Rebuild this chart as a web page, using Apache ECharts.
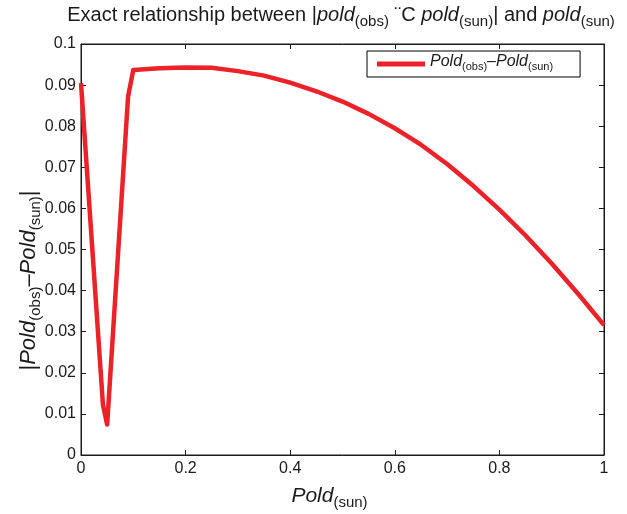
<!DOCTYPE html>
<html>
<head>
<meta charset="utf-8">
<script src="https://cdn.jsdelivr.net/npm/echarts@6/dist/echarts.min.js"></script>
<style>
  html, body { margin: 0; padding: 0; background: #fff; }
  #chart { width: 627px; height: 514px; }
</style>
</head>
<body>
<div id="chart"></div>
<script>
// Pold(sun) sample positions and |Pold(obs) - Pold(sun)| values
const poldSun = [0, 0.042, 0.05, 0.09, 0.10, 0.15, 0.20, 0.25, 0.30, 0.35, 0.40, 0.45, 0.50,
                 0.55, 0.60, 0.65, 0.70, 0.75, 0.80, 0.85, 0.90, 0.95, 1.00];
const absDiff = [0.0905, 0.0122, 0.0074, 0.0872, 0.0937, 0.0941, 0.0943, 0.0942, 0.0934, 0.0923,
                 0.0906, 0.0885, 0.0860, 0.0830, 0.0795, 0.0755, 0.0708, 0.0655, 0.0597, 0.0534,
                 0.0466, 0.0393, 0.0316];
const xTicks = [0, 0.2, 0.4, 0.6, 0.8, 1];
const yTicks = [0, 0.01, 0.02, 0.03, 0.04, 0.05, 0.06, 0.07, 0.08, 0.09, 0.1];

const FONT = 'Liberation Sans, Arial, Helvetica, sans-serif';
const INK = '#1a1a1a';
const RED = '#ed2128';

const points = poldSun.map((x, i) => [x, absDiff[i]]);
const fmt = v => String(Number(v.toFixed(2)));

const chart = echarts.init(document.getElementById('chart'), null, { renderer: 'canvas' });

// MATLAB-style box: inward ticks on all four sides
const tickStyle = { show: true, inside: true, length: 5, lineStyle: { color: INK, width: 1 } };
const lineStyleAxis = { show: true, onZero: false, lineStyle: { color: INK, width: 1 } };

chart.setOption({
  backgroundColor: '#fff',
  animation: false,
  title: {
    text: '{n|Exact relationship between |}{i|pold}{s|(obs)}{n| ¨C }{i|pold}{s|(sun)}{n|| and }{i|pold}{s|(sun)}',
    left: 336,
    textAlign: 'center',
    top: 2,
    textStyle: {
      fontFamily: FONT,
      fontWeight: 'normal',
      rich: {
        n: { fontFamily: FONT, fontSize: 20, fontWeight: 'normal', color: INK, lineHeight: 22, padding: [0, 0, 5, 0] },
        i: { fontFamily: FONT, fontSize: 20, fontWeight: 'normal', fontStyle: 'italic', color: INK, lineHeight: 22, padding: [0, 0, 5, 0] },
        s: { fontFamily: FONT, fontSize: 15, fontWeight: 'normal', color: INK, lineHeight: 15, verticalAlign: 'bottom' }
      }
    }
  },
  legend: {
    left: 367,
    top: 51,
    orient: 'horizontal',
    backgroundColor: '#fff',
    borderColor: '#000',
    borderWidth: 1,
    borderRadius: 0,
    padding: [3, 27, 3, 10],
    itemWidth: 48,
    itemHeight: 5,
    icon: 'rect',
    data: [{ name: 'diff', itemStyle: { color: RED } }],
    formatter: () => '{i|Pold}{s|(obs)}{n|\u2013}{i|Pold}{s|(sun)}',
    textStyle: {
      fontFamily: FONT,
      rich: {
        n: { fontFamily: FONT, fontSize: 16, color: INK, lineHeight: 16, padding: [0, 0, 4, 0] },
        i: { fontFamily: FONT, fontSize: 16, fontStyle: 'italic', color: INK, lineHeight: 16, padding: [0, 0, 4, 0] },
        s: { fontFamily: FONT, fontSize: 11, color: INK, lineHeight: 11, verticalAlign: 'bottom' }
      }
    }
  },
  grid: {
    left: 81, right: 23, top: 44, bottom: 59,
    outerBoundsMode: 'none',
    show: true, borderColor: INK, borderWidth: 1, backgroundColor: '#fff'
  },
  xAxis: [{
    type: 'value', min: 0, max: 1, interval: 0.2, position: 'bottom',
    axisLine: lineStyleAxis, axisTick: tickStyle, splitLine: { show: false },
    axisLabel: {
      fontFamily: FONT, fontSize: 16, color: INK, margin: 6,
      formatter: v => xTicks.some(t => Math.abs(t - v) < 1e-9) ? fmt(v) : ''
    },
    name: '{i|Pold}{s|(sun)}',
    nameLocation: 'middle',
    nameGap: 33,
    nameMoveOverlap: false,
    nameTextStyle: {
      padding: [0, 26, 0, 0],
      rich: {
        i: { fontFamily: FONT, fontSize: 21, fontStyle: 'italic', color: INK, lineHeight: 22, padding: [0, 0, 5, 0] },
        s: { fontFamily: FONT, fontSize: 15, color: INK, lineHeight: 15, verticalAlign: 'bottom' }
      }
    }
  }, {
    type: 'value', min: 0, max: 1, interval: 0.2, position: 'top',
    axisLine: lineStyleAxis, axisTick: tickStyle, splitLine: { show: false },
    axisLabel: { show: false }
  }],
  yAxis: [{
    type: 'value', min: 0, max: 0.1, interval: 0.01, position: 'left',
    axisLine: lineStyleAxis, axisTick: tickStyle, splitLine: { show: false },
    axisLabel: {
      fontFamily: FONT, fontSize: 16, color: INK, margin: 5,
      formatter: v => yTicks.some(t => Math.abs(t - v) < 1e-9) ? fmt(v) : ''
    },
    name: '{n||}{i|Pold}{s|(obs)}{n|\u2013}{i|Pold}{s|(sun)}{n||}',
    nameLocation: 'middle',
    nameRotate: 90,
    nameGap: 38,
    nameMoveOverlap: false,
    nameTextStyle: {
      padding: [0, 62, 0, 0],
      rich: {
        n: { fontFamily: FONT, fontSize: 22, color: INK, lineHeight: 24, padding: [0, 0, 5, 0] },
        i: { fontFamily: FONT, fontSize: 22, fontStyle: 'italic', color: INK, lineHeight: 24, padding: [0, 0, 5, 0] },
        s: { fontFamily: FONT, fontSize: 15, color: INK, lineHeight: 15, verticalAlign: 'bottom' }
      }
    }
  }, {
    type: 'value', min: 0, max: 0.1, interval: 0.01, position: 'right',
    axisLine: lineStyleAxis, axisTick: tickStyle, splitLine: { show: false },
    axisLabel: { show: false }
  }],
  series: [{
    name: 'diff',
    type: 'line',
    xAxisIndex: 0,
    yAxisIndex: 0,
    data: points,
    showSymbol: false,
    symbol: 'none',
    smooth: false,
    lineStyle: { color: RED, width: 4.5, join: 'round' },
    itemStyle: { color: RED }
  }]
});
</script>
</body>
</html>
